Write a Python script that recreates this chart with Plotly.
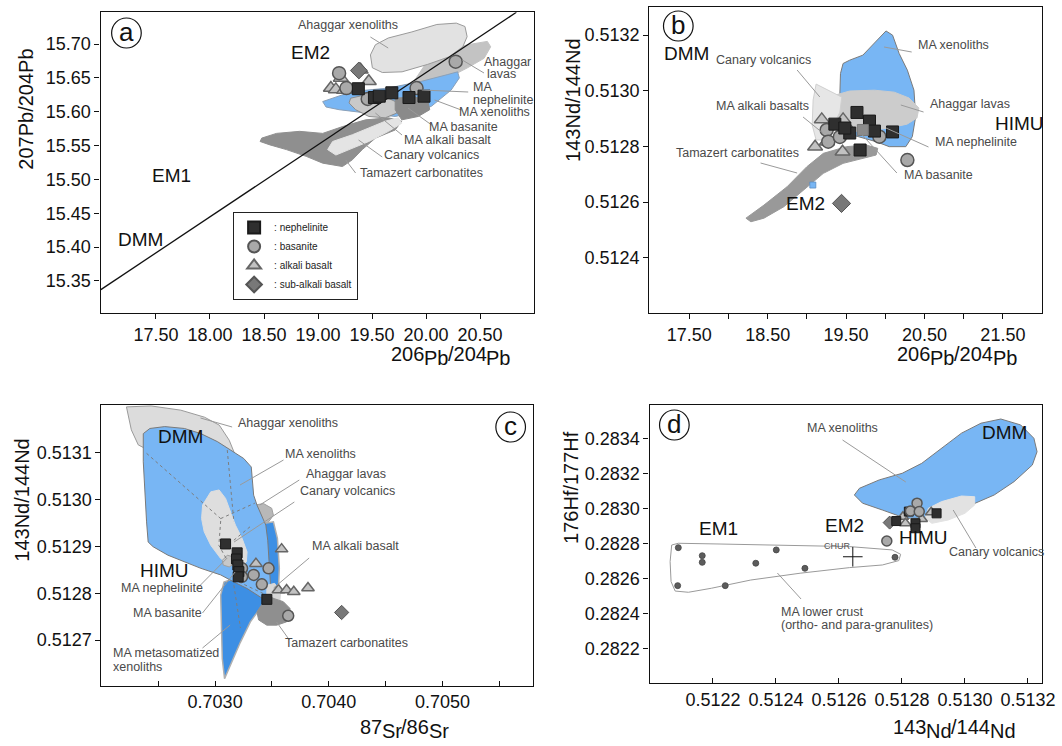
import plotly.graph_objects as go

W, H = 1062, 746
FONT = "Liberation Sans, Arial, sans-serif"

# ---------------- panel (a): 206Pb/204Pb vs 207Pb/204Pb ----------------
a_neph_x = [19.373, 19.522, 19.567, 19.683, 19.842, 19.981]
a_neph_y = [15.634, 15.621, 15.623, 15.628, 15.621, 15.623]
a_bas_x = [19.195, 19.263, 19.460, 19.912, 20.274]
a_bas_y = [15.657, 15.635, 15.619, 15.635, 15.674]
a_alk_x = [19.119, 19.165, 19.211, 19.241, 19.394, 19.470]
a_alk_y = [15.635, 15.633, 15.650, 15.632, 15.662, 15.645]
a_sub_x = [19.378]
a_sub_y = [15.661]
a_nhrl_x = [16.99, 20.836]
a_nhrl_y = [15.337, 15.747]

a_tam_x = [18.479, 18.616, 18.829, 19.043, 19.226, 19.439, 19.652, 19.775, 19.714, 19.531,
           19.409, 19.318, 19.226, 19.043, 18.891, 18.708, 18.555, 18.464]
a_tam_y = [15.561, 15.568, 15.571, 15.568, 15.578, 15.588, 15.591, 15.586, 15.573, 15.561,
           15.544, 15.529, 15.519, 15.524, 15.534, 15.544, 15.551, 15.556]
a_can_x = [19.089, 19.135, 19.318, 19.470, 19.622, 19.744, 19.775, 19.652, 19.470, 19.287, 19.165]
a_can_y = [15.544, 15.556, 15.566, 15.576, 15.586, 15.591, 15.583, 15.571, 15.556, 15.544, 15.536]
a_lav_x = [19.958, 20.141, 20.384, 20.537, 20.598, 20.567, 20.384, 20.141, 19.988, 19.896]
a_lav_y = [15.635, 15.645, 15.665, 15.679, 15.696, 15.704, 15.699, 15.687, 15.669, 15.647]
a_ahx_x = [19.485, 19.531, 19.650, 19.869, 20.100, 20.280, 20.360, 20.380, 20.340, 20.210,
           20.015, 19.778, 19.595, 19.503]
a_ahx_y = [15.684, 15.699, 15.709, 15.718, 15.729, 15.731, 15.726, 15.711, 15.696, 15.681,
           15.670, 15.659, 15.658, 15.665]
a_xen_x = [19.043, 19.318, 19.652, 19.958, 20.201, 20.292, 20.308, 20.232, 20.049, 19.866,
           19.714, 19.439, 19.195, 19.074]
a_xen_y = [15.615, 15.630, 15.635, 15.645, 15.655, 15.659, 15.650, 15.632, 15.608, 15.598,
           15.593, 15.598, 15.603, 15.607]
a_alkf_x = [19.302, 19.439, 19.622, 19.744, 19.729, 19.622, 19.470, 19.348, 19.287]
a_alkf_y = [15.620, 15.625, 15.622, 15.613, 15.598, 15.591, 15.593, 15.603, 15.613]
a_basf_x = [19.714, 19.896, 20.018, 20.034, 19.927, 19.775, 19.714]
a_basf_y = [15.620, 15.622, 15.615, 15.603, 15.593, 15.588, 15.603]

a_xticks = [17.5, 18.0, 18.5, 19.0, 19.5, 20.0, 20.5]
a_xtext = ["17.50", "18.00", "18.50", "19.00", "19.50", "20.00", "20.50"]
a_yticks = [15.35, 15.40, 15.45, 15.50, 15.55, 15.60, 15.65, 15.70]
a_ytext = ["15.35", "15.40", "15.45", "15.50", "15.55", "15.60", "15.65", "15.70"]

# ---------------- panel (b): 206Pb/204Pb vs 143Nd/144Nd ----------------
b_neph_x = [19.639, 19.357, 19.799, 20.093, 19.679, 19.547, 19.862, 19.484]
b_neph_y = [0.512922, 0.512880, 0.512891, 0.512852, 0.512787, 0.512848, 0.512855, 0.512866]
b_bas_x = [19.253, 19.505, 19.273, 19.925, 20.282, 19.421]
b_bas_y = [0.512859, 0.512859, 0.512817, 0.512835, 0.512751, 0.512834]
b_alk_x = [19.190, 19.462, 19.105, 19.253, 19.455]
b_alk_y = [0.512897, 0.512897, 0.512799, 0.512817, 0.512781]
b_sub_x = [19.442]
b_sub_y = [0.512595]
b_grey_x = [19.714]
b_grey_y = [0.512859]
b_blue_x = [19.076]
b_blue_y = [0.512661]

b_xen_x = [19.462, 19.547, 19.714, 19.883, 20.009, 20.093, 20.177, 20.282, 20.366, 20.388,
           20.345, 20.262, 20.051, 19.883, 19.673, 19.505, 19.442, 19.421, 19.429]
b_xen_y = [0.513098, 0.513110, 0.513128, 0.513176, 0.513215, 0.513200, 0.513134, 0.513074,
           0.513002, 0.512907, 0.512835, 0.512799, 0.512799, 0.512817, 0.512835, 0.512847,
           0.512895, 0.512991, 0.513062]
b_lav_x = [19.357, 19.547, 19.862, 20.114, 20.303, 20.429, 20.404, 20.278, 20.051, 19.736,
           19.421, 19.269, 19.231]
b_lav_y = [0.512984, 0.512999, 0.513002, 0.512995, 0.512974, 0.512938, 0.512902, 0.512880,
           0.512866, 0.512855, 0.512852, 0.512877, 0.512931]
b_can_x = [19.118, 19.269, 19.446, 19.421, 19.320, 19.231, 19.118, 19.068, 19.080]
b_can_y = [0.513024, 0.513002, 0.512977, 0.512923, 0.512866, 0.512823, 0.512823, 0.512877, 0.512967]
b_tam_x = [18.223, 18.453, 18.748, 19.000, 19.210, 19.505, 19.757, 19.904, 19.883, 19.714,
           19.462, 19.210, 18.958, 18.706, 18.453, 18.286]
b_tam_y = [0.512542, 0.512589, 0.512655, 0.512727, 0.512775, 0.512799, 0.512805, 0.512793,
           0.512769, 0.512757, 0.512739, 0.512703, 0.512643, 0.512583, 0.512542, 0.512529]

b_xticks = [17.5, 18.5, 19.5, 20.5, 21.5]
b_xtext = ["17.50", "18.50", "19.50", "20.50", "21.50"]
b_xminor = [18.0, 19.0, 20.0, 21.0]
b_yticks = [0.5124, 0.5126, 0.5128, 0.5130, 0.5132]
b_ytext = ["0.5124", "0.5126", "0.5128", "0.5130", "0.5132"]

# ---------------- panel (c): 87Sr/86Sr vs 143Nd/144Nd ----------------
c_neph_x = [0.703092, 0.703194, 0.703188, 0.703200, 0.703209, 0.703203, 0.703455]
c_neph_y = [0.512905, 0.512886, 0.512873, 0.512860, 0.512846, 0.512835, 0.512787]
c_bas_x = [0.703237, 0.703339, 0.703470, 0.703411, 0.703643, 0.703237]
c_bas_y = [0.512853, 0.512839, 0.512853, 0.512819, 0.512752, 0.512835]
c_alk_x = [0.703585, 0.703359, 0.703557, 0.703629, 0.703692, 0.703817]
c_alk_y = [0.512894, 0.512863, 0.512807, 0.512807, 0.512803, 0.512811]
c_sub_x = [0.704113]
c_sub_y = [0.512759]

c_ahx_x = [0.702220, 0.702437, 0.702698, 0.702907, 0.703037, 0.703124, 0.703194, 0.703150,
           0.702672, 0.702411, 0.702324, 0.702263]
c_ahx_y = [0.513197, 0.513199, 0.513190, 0.513175, 0.513158, 0.513126, 0.513084, 0.513062,
           0.513094, 0.513105, 0.513116, 0.513148]
c_lav_x = [0.703353, 0.703426, 0.703498, 0.703513, 0.703470, 0.703397, 0.703281, 0.703281]
c_lav_y = [0.512988, 0.512991, 0.512981, 0.512966, 0.512952, 0.512945, 0.512956, 0.512981]
c_met_x = [0.703440, 0.703513, 0.703548, 0.703565, 0.703557, 0.703498, 0.703397, 0.703310,
           0.703223, 0.703136, 0.703083, 0.703063, 0.703055, 0.703049, 0.703078, 0.703252]
c_met_y = [0.512949, 0.512952, 0.512917, 0.512853, 0.512810, 0.512782, 0.512768, 0.512739,
           0.512696, 0.512647, 0.512618, 0.512661, 0.512725, 0.512796, 0.512824, 0.512839]
c_xen_x = [0.702368, 0.702426, 0.702557, 0.702730, 0.702875, 0.703020, 0.703136, 0.703252,
           0.703318, 0.703330, 0.703339, 0.703368, 0.703411, 0.703446, 0.703463, 0.703472,
           0.703481, 0.703490, 0.703513, 0.703470, 0.703397, 0.703281, 0.703165, 0.703049,
           0.702875, 0.702730, 0.702585, 0.702455, 0.702411, 0.702397, 0.702383, 0.702368]
c_xen_y = [0.513140, 0.513151, 0.513155, 0.513151, 0.513140, 0.513123, 0.513105, 0.513087,
           0.513069, 0.513037, 0.513009, 0.512988, 0.512966, 0.512945, 0.512913, 0.512870,
           0.512832, 0.512807, 0.512789, 0.512782, 0.512792, 0.512810, 0.512824, 0.512839,
           0.512853, 0.512867, 0.512881, 0.512899, 0.512909, 0.512952, 0.513009, 0.513080]
c_can_x = [0.702890, 0.702962, 0.703035, 0.703092, 0.703136, 0.703179, 0.703237, 0.703281,
           0.703275, 0.703223, 0.703136, 0.703049, 0.702962, 0.702904, 0.702881]
c_can_y = [0.512988, 0.513016, 0.513020, 0.513002, 0.512973, 0.512945, 0.512917, 0.512888,
           0.512867, 0.512856, 0.512860, 0.512874, 0.512902, 0.512931, 0.512959]
c_tam_x = [0.703368, 0.703426, 0.703513, 0.703600, 0.703657, 0.703672, 0.703629, 0.703542,
           0.703455, 0.703383]
c_tam_y = [0.512760, 0.512782, 0.512789, 0.512782, 0.512768, 0.512750, 0.512739, 0.512732,
           0.512732, 0.512743]
c_nephf_x = [0.703063, 0.703107, 0.703168, 0.703177, 0.703124, 0.703072]
c_nephf_y = [0.512870, 0.512881, 0.512877, 0.512864, 0.512856, 0.512860]
c_alkf_x = [0.703455, 0.703524, 0.703577, 0.703568, 0.703507, 0.703455]
c_alkf_y = [0.512817, 0.512821, 0.512802, 0.512779, 0.512775, 0.512794]
# dashed boundary lines inside the xenolith field
c_dash = [
    ([0.702397, 0.703049], [0.513098, 0.512959]),
    ([0.703107, 0.703165], [0.513105, 0.512952]),
    ([0.703049, 0.703350], [0.512959, 0.512992]),
    ([0.703049, 0.703033, 0.703107], [0.512954, 0.512902, 0.512870]),
    ([0.703165, 0.703324], [0.512913, 0.512945]),
    ([0.703165, 0.703223], [0.512817, 0.512726]),
    ([0.703209, 0.703513], [0.512824, 0.512789]),
]

c_xticks = [0.7030, 0.7040, 0.7050]
c_xtext = ["0.7030", "0.7040", "0.7050"]
c_xminor = [0.7025, 0.7035, 0.7045, 0.7055]
c_yticks = [0.5127, 0.5128, 0.5129, 0.5130, 0.5131]
c_ytext = ["0.5127", "0.5128", "0.5129", "0.5130", "0.5131"]

# ---------------- panel (d): 143Nd/144Nd vs 176Hf/177Hf ----------------
d_neph_x = [0.512822, 0.512843, 0.512910, 0.512782, 0.512843]
d_neph_y = [0.282985, 0.282918, 0.282975, 0.282931, 0.282890]
d_bas_x = [0.512752, 0.512848, 0.512827, 0.512855]
d_bas_y = [0.282817, 0.283033, 0.282989, 0.282985]
d_alk_x = [0.512803, 0.512893, 0.512863, 0.512811]
d_alk_y = [0.282956, 0.282981, 0.282943, 0.282918]
d_sub_x = [0.512761]
d_sub_y = [0.282922]
d_crust_x = [0.512090, 0.512166, 0.512166, 0.512088, 0.512239, 0.512336, 0.512401, 0.512492, 0.512778]
d_crust_y = [0.282779, 0.282733, 0.282695, 0.282562, 0.282562, 0.282690, 0.282766, 0.282661, 0.282724]
d_chur_x = [0.512644]
d_chur_y = [0.282727]

d_xen_x = [0.512649, 0.512665, 0.512728, 0.512801, 0.512863, 0.512926, 0.512989, 0.513051,
           0.513114, 0.513177, 0.513219, 0.513229, 0.513214, 0.513156, 0.513093, 0.513020,
           0.512947, 0.512884, 0.512811, 0.512738, 0.512675]
d_xen_y = [0.283080, 0.283118, 0.283166, 0.283204, 0.283261, 0.283347, 0.283433, 0.283490,
           0.283514, 0.283480, 0.283404, 0.283327, 0.283251, 0.283156, 0.283080, 0.283023,
           0.282975, 0.282947, 0.282947, 0.282994, 0.283033]
d_can_x = [0.512884, 0.512926, 0.512989, 0.513031, 0.513031, 0.513000, 0.512947, 0.512895, 0.512874]
d_can_y = [0.283004, 0.283042, 0.283074, 0.283070, 0.283023, 0.282975, 0.282937, 0.282918, 0.282947]
d_crf_x = [0.512069, 0.512090, 0.512216, 0.512424, 0.512634, 0.512769, 0.512796, 0.512790,
           0.512738, 0.512634, 0.512477, 0.512320, 0.512195, 0.512122, 0.512080, 0.512067, 0.512064]
d_crf_y = [0.282794, 0.282804, 0.282800, 0.282794, 0.282785, 0.282766, 0.282741, 0.282705,
           0.282680, 0.282665, 0.282633, 0.282594, 0.282547, 0.282524, 0.282531, 0.282585, 0.282699]

d_xticks = [0.5122, 0.5124, 0.5126, 0.5128, 0.5130, 0.5132]
d_xtext = ["0.5122", "0.5124", "0.5126", "0.5128", "0.5130", "0.5132"]
d_yticks = [0.2822, 0.2824, 0.2826, 0.2828, 0.2830, 0.2832, 0.2834]
d_ytext = ["0.2822", "0.2824", "0.2826", "0.2828", "0.2830", "0.2832", "0.2834"]

# ---------------- styles ----------------
BLUE = "#78b6f4"
BLUE_DK = "#3d8fe4"
STYLE = {
    "neph": dict(symbol="square", color="#2f2f2f", line=dict(color="#1a1a1a", width=1)),
    "bas": dict(symbol="circle", color="#a9a9a9", line=dict(color="#555555", width=1.5)),
    "alk": dict(symbol="triangle-up", color="#c2c2c2", line=dict(color="#666666", width=1.5)),
    "sub": dict(symbol="diamond", color="#787878", line=dict(color="#555555", width=1)),
}
NAMES = {"neph": ": nephelinite", "bas": ": basanite", "alk": ": alkali basalt",
         "sub": ": sub-alkali basalt"}
RANK = {"neph": 1, "bas": 2, "alk": 3, "sub": 4}

fig = go.Figure()


def field(x, y, fill, ax, line="#8c8c8c", width=1):
    fig.add_trace(go.Scatter(x=x + x[:1], y=y + y[:1], mode="lines", fill="toself",
                             fillcolor=fill, line=dict(color=line, width=width),
                             xaxis=ax[0], yaxis=ax[1], showlegend=False, hoverinfo="skip"))


def pts(x, y, kind, ax, size, legend=False):
    st = STYLE[kind]
    fig.add_trace(go.Scatter(x=x, y=y, mode="markers", name=NAMES[kind],
                             marker=dict(symbol=st["symbol"], size=size, color=st["color"],
                                         line=st["line"]),
                             xaxis=ax[0], yaxis=ax[1], showlegend=legend,
                             legendrank=RANK[kind], hoverinfo="skip"))


A, B, C, D = ("x", "y"), ("x2", "y2"), ("x3", "y3"), ("x4", "y4")

# panel a
field(a_tam_x, a_tam_y, "#8f8f8f", A, line="#8f8f8f")
field(a_can_x, a_can_y, "#e4e4e4", A, line="#e4e4e4")
field(a_lav_x, a_lav_y, "#c3c3c3", A, line="#c3c3c3")
field(a_ahx_x, a_ahx_y, "#e2e2e2", A, line="#9a9a9a")
field(a_xen_x, a_xen_y, BLUE, A, line="#8aa0b8")
field(a_alkf_x, a_alkf_y, "#c9c9c9", A, line="#8c8c8c")
field(a_basf_x, a_basf_y, "#8a8a8a", A, line="#8a8a8a")
fig.add_trace(go.Scatter(x=a_nhrl_x, y=a_nhrl_y, mode="lines", line=dict(color="#111", width=1.3),
                         xaxis="x", yaxis="y", showlegend=False, hoverinfo="skip"))
pts(a_alk_x, a_alk_y, "alk", A, 13, True)
pts(a_bas_x, a_bas_y, "bas", A, 13, True)
pts(a_sub_x, a_sub_y, "sub", A, 13, True)
pts(a_neph_x, a_neph_y, "neph", A, 12, True)

# panel b
field(b_tam_x, b_tam_y, "#999999", B, line="#999999")
field(b_xen_x, b_xen_y, BLUE, B, line="#7a7a7a")
field(b_lav_x, b_lav_y, "#cccccc", B, line="#cccccc")
field(b_can_x, b_can_y, "#e6e6e6", B, line="#d0d0d0")
pts(b_alk_x, b_alk_y, "alk", B, 13)
pts(b_bas_x, b_bas_y, "bas", B, 13)
pts(b_neph_x, b_neph_y, "neph", B, 12)
fig.add_trace(go.Scatter(x=b_grey_x, y=b_grey_y, mode="markers",
                         marker=dict(symbol="square", size=11, color="#8a8a8a",
                                     line=dict(color="#777", width=1)),
                         xaxis="x2", yaxis="y2", showlegend=False, hoverinfo="skip"))
fig.add_trace(go.Scatter(x=b_blue_x, y=b_blue_y, mode="markers",
                         marker=dict(symbol="square", size=6, color=BLUE,
                                     line=dict(color="#5a8cc0", width=0.8)),
                         xaxis="x2", yaxis="y2", showlegend=False, hoverinfo="skip"))
pts(b_sub_x, b_sub_y, "sub", B, 14)

# panel c
field(c_ahx_x, c_ahx_y, "#dcdcdc", C, line="#9a9a9a")
field(c_lav_x, c_lav_y, "#b8b8b8", C, line="#a0a0a0")
field(c_met_x, c_met_y, BLUE_DK, C, line="#b0b0b0", width=1.5)
field(c_xen_x, c_xen_y, BLUE, C, line="#7a7a7a")
field(c_can_x, c_can_y, "#dedede", C, line="#dedede")
field(c_nephf_x, c_nephf_y, "#c8c8c8", C, line="#a0a0a0")
field(c_alkf_x, c_alkf_y, "#d8d8d8", C, line="#d8d8d8")
field(c_tam_x, c_tam_y, "#8f8f8f", C, line="#8f8f8f")
for dx, dy in c_dash:
    fig.add_trace(go.Scatter(x=dx, y=dy, mode="lines",
                             line=dict(color="#7d7d7d", width=1, dash="dot"),
                             xaxis="x3", yaxis="y3", showlegend=False, hoverinfo="skip"))
pts(c_alk_x, c_alk_y, "alk", C, 11)
pts(c_bas_x, c_bas_y, "bas", C, 11)
pts(c_neph_x, c_neph_y, "neph", C, 10)
pts(c_sub_x, c_sub_y, "sub", C, 11)

# panel d
field(d_xen_x, d_xen_y, BLUE, D, line="#7a7a7a")
field(d_can_x, d_can_y, "#e2e2e2", D, line="#e2e2e2")
fig.add_trace(go.Scatter(x=d_crf_x + d_crf_x[:1], y=d_crf_y + d_crf_y[:1], mode="lines",
                         line=dict(color="#9a9a9a", width=1), xaxis="x4", yaxis="y4",
                         showlegend=False, hoverinfo="skip"))
fig.add_trace(go.Scatter(x=d_crust_x, y=d_crust_y, mode="markers",
                         marker=dict(symbol="circle", size=6, color="#5c5c5c",
                                     line=dict(color="#444", width=0.8)),
                         xaxis="x4", yaxis="y4", showlegend=False, hoverinfo="skip"))
fig.add_trace(go.Scatter(x=d_chur_x, y=d_chur_y, mode="markers",
                         marker=dict(symbol="cross-thin", size=14, line=dict(color="#111", width=1)),
                         xaxis="x4", yaxis="y4", showlegend=False, hoverinfo="skip"))
pts(d_sub_x, d_sub_y, "sub", D, 10)
pts(d_alk_x, d_alk_y, "alk", D, 10)
pts(d_neph_x, d_neph_y, "neph", D, 9)
pts(d_bas_x, d_bas_y, "bas", D, 10)


# ---------------- axes ----------------
def P(x, y):
    return x / W, 1 - y / H


def axis(dom, rng, tv, tt, ticks, anchor, minor=None):
    ax = dict(domain=dom, range=rng, tickvals=tv, ticktext=tt, ticks=ticks, ticklen=5,
              tickwidth=1, tickcolor="#111", showline=True, linecolor="#111", linewidth=1.3,
              mirror=True, showgrid=False, zeroline=False, anchor=anchor, fixedrange=True,
              ticklabeloverflow="allow",
              tickfont=dict(family=FONT, size=18, color="#111"))
    if minor:
        ax["minor"] = dict(tickvals=minor, ticks=ticks, ticklen=5, tickwidth=1,
                           tickcolor="#111", showgrid=False)
    return ax


def xdom(l, r):
    return [l / W, r / W]


def ydom(t, b):
    return [1 - b / H, 1 - t / H]


layout = dict(
    width=W, height=H, autosize=False, margin=dict(l=0, r=0, t=0, b=0),
    paper_bgcolor="white", plot_bgcolor="white",
    font=dict(family=FONT, color="#111"),
    xaxis=axis(xdom(101.8, 540.4), [16.987, 20.997], a_xticks, a_xtext, "outside", "y"),
    yaxis=axis(ydom(12.3, 313.3), [15.302, 15.747], a_yticks, a_ytext, "outside", "x"),
    xaxis2=axis(xdom(657.3, 1055), [16.99, 22.0], b_xticks, b_xtext, "outside", "y2", b_xminor),
    yaxis2=axis(ydom(7.3, 313.3), [0.51220, 0.51330], b_yticks, b_ytext, "outside", "x2"),
    xaxis3=axis(xdom(102.7, 540), [0.7020, 0.7058], c_xticks, c_xtext, "inside", "y3", c_xminor),
    yaxis3=axis(ydom(405, 685.7), [0.512603, 0.513201], c_yticks, c_ytext, "outside", "x3"),
    xaxis4=axis(xdom(657.7, 1055), [0.511999, 0.513245], d_xticks, d_xtext, "inside", "y4"),
    yaxis4=axis(ydom(405, 683.3), [0.282004, 0.283594], d_yticks, d_ytext, "outside", "x4"),
    legend=dict(x=236 / W, y=1 - 212 / H, xanchor="left", yanchor="top",
                bordercolor="#222", borderwidth=1, bgcolor="white",
                font=dict(family=FONT, size=10, color="#222"), itemsizing="constant",
                itemwidth=30, tracegroupgap=0),
    showlegend=True,
)
fig.update_layout(**layout)

annotations = []
shapes = []


def label(x, y, text, size=12.5, color="#4a4a4a", anchor="left", angle=0, pad=1):
    px, py = P(x, y)
    annotations.append(dict(x=px, y=py, xref="paper", yref="paper", text=text, showarrow=False,
                            xanchor=anchor, yanchor="middle", textangle=angle, borderpad=pad,
                            font=dict(family=FONT, size=size, color=color)))


def leader(x0, y0, x1, y1):
    a0, b0 = P(x0, y0)
    a1, b1 = P(x1, y1)
    shapes.append(dict(type="line", xref="paper", yref="paper", x0=a0, y0=b0, x1=a1, y1=b1,
                       line=dict(color="#9a9a9a", width=1)))


def badge(cx, cy, letter, r=15):
    x0, y1 = P(cx - r, cy - r)
    x1, y0 = P(cx + r, cy + r)
    shapes.append(dict(type="circle", xref="paper", yref="paper", x0=x0, y0=y0, x1=x1, y1=y1,
                       line=dict(color="#111", width=1.2), fillcolor="white"))
    label(cx, cy - 1, letter, size=26, color="#111", anchor="center")


def member(x, y, text, size=19):
    label(x, y, text, size=size, color="#111", anchor="center")


# advance widths (em) of the glyphs used in the isotope-ratio titles
GLYPH_W = {"0": 0.556, "1": 0.556, "2": 0.556, "3": 0.556, "4": 0.556, "5": 0.556,
           "6": 0.556, "7": 0.556, "8": 0.556, "9": 0.556, "P": 0.667, "b": 0.556,
           "/": 0.278, "S": 0.667, "r": 0.333, "N": 0.722, "d": 0.556}


def ratio_title(cx, cy, num, den, elem, size=20, drop=4):
    # mass numbers on the baseline, element symbols set a little lower
    pieces = [(num, 0), (elem, drop), ("/" + den, 0), (elem, drop)]
    widths = [sum(GLYPH_W[ch] for ch in t) * size for t, _ in pieces]
    x = cx - sum(widths) / 2
    for (t, dy), w in zip(pieces, widths):
        label(x, cy + dy, t, size=size, color="#111", anchor="left", pad=0)
        x += w


# axis titles
label(26, 109, "207Pb/204Pb", size=20, color="#111", anchor="center", angle=-90)
ratio_title(455, 354, "206", "204", "Pb")
label(580, 100, "143Nd/144Nd", size=20, color="#111", anchor="center", angle=-90)
ratio_title(968, 354, "206", "204", "Pb")
label(22, 500, "143Nd/144Nd", size=20, color="#111", anchor="center", angle=-90)
ratio_title(408, 727, "87", "86", "Sr")
label(578, 487, "176Hf/177Hf", size=20, color="#111", anchor="center", angle=-90)
ratio_title(965, 727, "143", "144", "Nd")

# panel a labels
badge(128, 33, "a")
label(352, 25, "Ahaggar xenoliths", anchor="center"); leader(375, 37, 393, 48)
member(314, 52, "EM2")
label(514, 62, "Ahaggar", anchor="center"); label(508, 74, "lavas", anchor="center")
leader(468, 60, 490, 73)
label(477, 87, "MA"); label(477, 100, "nephelinite"); leader(427, 90, 474, 92)
label(463, 112, "MA xenoliths"); leader(440, 100, 467, 110)
label(432, 127, "MA basanite"); leader(413, 108, 437, 125)
label(407, 140, "MA alkali basalt"); leader(380, 113, 407, 135)
label(387, 155, "Canary volcanics"); leader(363, 140, 387, 157)
label(362, 173, "Tamazert carbonatites"); leader(350, 160, 360, 173)
member(174, 175, "EM1")
member(142, 239, "DMM")

# panel b labels
badge(686.7, 26, "b")
member(695, 53, "DMM")
label(723, 60, "Canary volcanics"); leader(807, 70, 830, 97)
label(723, 106, "MA alkali basalts"); leader(813, 117, 833, 133)
label(682, 153, "Tamazert carbonatites"); leader(770, 163, 807, 173)
member(815, 204, "EM2")
label(927, 45, "MA xenoliths"); leader(895, 47, 923, 52)
label(940, 104, "Ahaggar lavas"); leader(912, 105, 935, 112)
member(1032, 123, "HIMU")
label(945, 142, "MA nephelinite"); leader(897, 128, 940, 147)
label(913, 175, "MA basanite"); leader(873, 135, 908, 173)

# panel c labels
badge(517, 427, "c")
label(239, 423, "Ahaggar xenoliths"); leader(203, 418, 235, 427)
member(183, 437, "DMM")
label(287, 454, "MA xenoliths"); leader(287, 460, 243, 485)
label(308, 474, "Ahaggar lavas"); leader(303, 480, 263, 505)
label(302, 491, "Canary volcanics"); leader(298, 502, 237, 542)
label(314, 546, "MA alkali basalt"); leader(313, 558, 277, 588)
member(167, 570, "HIMU")
label(120, 588, "MA nephelinite"); leader(200, 588, 230, 558)
label(133, 613, "MA basanite"); leader(205, 613, 238, 572)
label(112, 653, "MA metasomatized"); label(112, 667, "xenoliths")
leader(205, 648, 233, 625)
label(287, 643, "Tamazert carbonatites"); leader(293, 640, 280, 622)

# panel d labels
badge(682.7, 425, "d")
label(815, 428, "MA xenoliths"); leader(853, 440, 917, 482)
member(1017, 432, "DMM")
member(727, 528, "EM1")
member(855, 525, "EM2")
member(935, 537, "HIMU")
label(847, 546, "CHUR", size=9, color="#555", anchor="center")
label(959, 552, "Canary volcanics"); leader(988, 548, 965, 510)
label(789, 612, "MA lower crust"); label(789, 625, "(ortho- and para-granulites)")
leader(811, 599, 787, 573)

fig.update_layout(annotations=annotations, shapes=shapes)
fig.write_html("out.html")
